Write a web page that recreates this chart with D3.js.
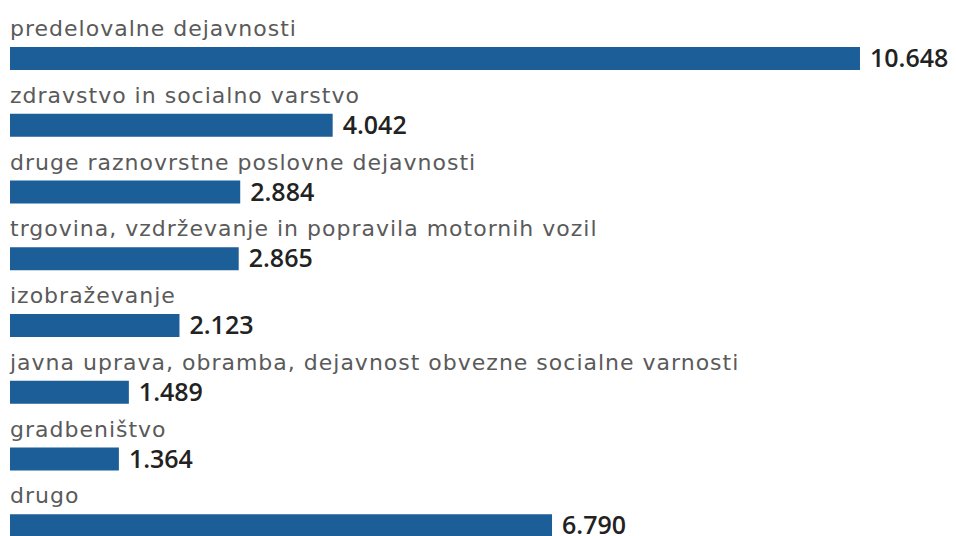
<!DOCTYPE html>
<html><head><meta charset="utf-8">
<script src="https://cdn.jsdelivr.net/npm/d3@7"></script>
<style>
html,body{margin:0;padding:0;background:#fff;}
svg{display:block;}
</style></head>
<body>
<svg id="chart" width="956" height="536"></svg>
<script>
const categories = [
  "predelovalne dejavnosti",
  "zdravstvo in socialno varstvo",
  "druge raznovrstne poslovne dejavnosti",
  "trgovina, vzdrževanje in popravila motornih vozil",
  "izobraževanje",
  "javna uprava, obramba, dejavnost obvezne socialne varnosti",
  "gradbeništvo",
  "drugo"
];
const values = [10648, 4042, 2884, 2865, 2123, 1489, 1364, 6790];
const valueLabels = ["10.648", "4.042", "2.884", "2.865", "2.123", "1.489", "1.364", "6.790"];

const svg = d3.select("#chart");
const x = d3.scaleLinear().domain([0, 10648]).range([10, 860]);
const y = d3.scaleBand().domain(categories).range([47, 47 + 8 * 66.75]);
const barH = 23;

const g = svg.selectAll("g.row").data(categories).enter().append("g").attr("class","row");

g.append("text")
  .attr("x", 10)
  .attr("y", d => y(d) - 11)
  .attr("font-family", "DejaVu Sans, sans-serif")
  .attr("font-size", 22)
  .attr("letter-spacing", 1)
  .attr("fill", "#5a5a5a")
  .text(d => d);

g.append("rect")
  .attr("x", x(0))
  .attr("y", d => y(d))
  .attr("width", (d,i) => x(values[i]) - x(0))
  .attr("height", barH)
  .attr("fill", "#1c5e98");

g.append("text")
  .attr("x", (d,i) => x(values[i]) + 10)
  .attr("y", d => y(d) + barH - 3)
  .attr("font-family", "Open Sans, sans-serif")
  .attr("font-size", 25)
  .attr("font-weight", 600)
  .attr("fill", "#222")
  .text((d,i) => valueLabels[i]);
</script>
</body></html>
